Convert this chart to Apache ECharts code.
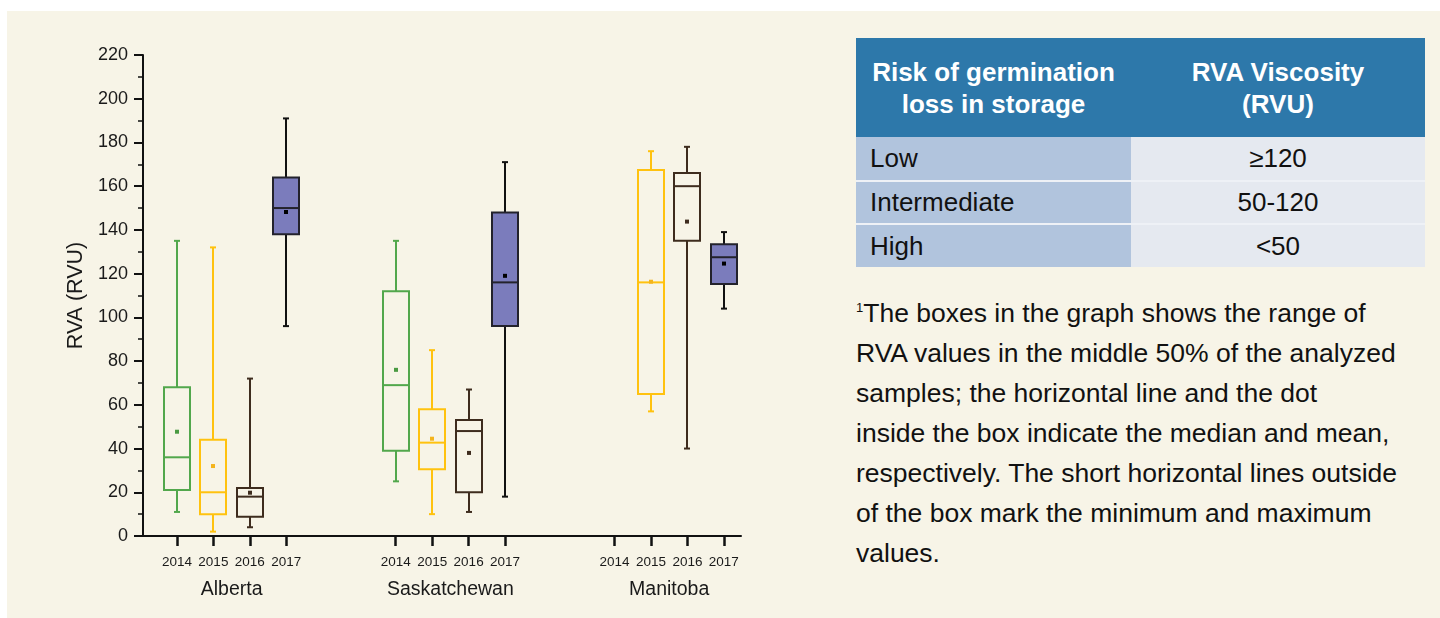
<!DOCTYPE html>
<html>
<head>
<meta charset="utf-8">
<script src="https://cdn.jsdelivr.net/npm/echarts@6/dist/echarts.min.js"></script>
<style>
  body { margin: 0; background: #fff; font-family: 'Liberation Sans', Arial, sans-serif; }
  #panel { position: absolute; left: 7px; top: 11px; width: 1433px; height: 607px; background: #f7f4e7; }
  #chart { position: absolute; left: 0; top: 0; width: 850px; height: 618px; }
  #risk { position: absolute; left: 856px; top: 38px; width: 569px; }
  #risk .hd { display: flex; height: 99px; background: #2d78aa; color: #fff; font-weight: bold; font-size: 26px; line-height: 32px; }
  #risk .hd div { display: flex; align-items: center; justify-content: center; text-align: center; }
  #risk .row { display: flex; font-size: 26px; color: #111; border-top: 2px solid #eef1f6; }
  #risk .c1 { width: 275px; background: #b1c4dd; padding-left: 14px; box-sizing: border-box; display: flex; align-items: center; }
  #risk .c2 { width: 294px; background: #e5e9f0; text-align: center; display: flex; align-items: center; justify-content: center; }
  #note { position: absolute; left: 856px; top: 293px; font-size: 26.5px; line-height: 40px; color: #111; white-space: nowrap; }
  #note sup { font-size: 13px; vertical-align: 10px; line-height: 0; }
</style>
</head>
<body>
<div id="panel"></div>
<div id="chart"></div>
<div id="risk">
  <div class="hd">
    <div style="width:275px">Risk of germination<br>loss in storage</div>
    <div style="width:294px">RVA Viscosity<br>(RVU)</div>
  </div>
  <div class="row" style="border-top:0;height:43px"><div class="c1">Low</div><div class="c2">≥120</div></div>
  <div class="row" style="height:41px"><div class="c1">Intermediate</div><div class="c2">50-120</div></div>
  <div class="row" style="height:42px"><div class="c1">High</div><div class="c2">&lt;50</div></div>
</div>
<div id="note"><sup>1</sup>The boxes in the graph shows the range of<br>RVA values in the middle 50% of the analyzed<br>samples; the horizontal line and the dot<br>inside the box indicate the median and mean,<br>respectively. The short horizontal lines outside<br>of the box mark the minimum and maximum<br>values.</div>

<script>
var provinces = ['Alberta', 'Saskatchewan', 'Manitoba']
var years = ['2014', '2015', '2016', '2017']

// per province: [min, q1, median, q3, max, mean]
var rva2014 = [[11, 21, 36, 68, 135, 47.7], [25, 39, 69, 112, 135, 76], null]
var rva2015 = [[2, 10, 20, 44, 132, 32], [10, 30.5, 42.7, 58, 85, 44.5], [57, 65, 116, 167.4, 176, 116.3]]
var rva2016 = [[4, 8.8, 18, 22, 72, 19.8], [11, 20, 48, 53, 67, 38], [40, 135, 160, 166, 178, 143.8]]
var rva2017 = [[96, 138, 150, 164, 191, 148.2], [18, 96, 116, 148, 171, 119], [104, 115.3, 127.5, 133.4, 139, 124.6]]
var allYears = [rva2014, rva2015, rva2016, rva2017]

var yearStyles = [
  { stroke: '#52a74c', fill: 'none', whisker: '#52a74c', mean: '#4a9a42' },
  { stroke: '#ffc20f', fill: 'none', whisker: '#ffc20f', mean: '#f4b41c' },
  { stroke: '#3e2c1e', fill: 'none', whisker: '#3e2c1e', mean: '#3e2c1e' },
  { stroke: '#23222c', fill: '#7b7cbc', whisker: '#111111', mean: '#000000' }
]

var GAP = 6 // slots per province group (4 years + 2 empty)
var tickPos = []
provinces.forEach(function (p, pi) {
  years.forEach(function (y, yi) { tickPos.push(pi * GAP + yi) })
})
var groupPos = provinces.map(function (p, pi) { return pi * GAP + 1.5 })

function makeRender (st) {
  return function (params, api) {
    var x = api.value(0)
    var pMin = api.coord([x, api.value(1)])
    var pQ1 = api.coord([x, api.value(2)])
    var pMed = api.coord([x, api.value(3)])
    var pQ3 = api.coord([x, api.value(4)])
    var pMax = api.coord([x, api.value(5)])
    var pMean = api.coord([x, api.value(6)])
    var cx = Math.round(pMin[0])
    var hw = 13
    var ln = { stroke: st.whisker, lineWidth: 2 }
    var bx = { stroke: st.stroke, lineWidth: 2 }
    return {
      type: 'group',
      children: [
        { type: 'line', shape: { x1: cx, y1: pMax[1], x2: cx, y2: pQ3[1] }, style: ln },
        { type: 'line', shape: { x1: cx, y1: pQ1[1], x2: cx, y2: pMin[1] }, style: ln },
        { type: 'line', shape: { x1: cx - 3, y1: pMax[1], x2: cx + 3, y2: pMax[1] }, style: ln },
        { type: 'line', shape: { x1: cx - 3, y1: pMin[1], x2: cx + 3, y2: pMin[1] }, style: ln },
        { type: 'rect', shape: { x: cx - hw, y: pQ3[1], width: hw * 2, height: pQ1[1] - pQ3[1] },
          style: { fill: st.fill, stroke: st.stroke, lineWidth: 2 } },
        { type: 'line', shape: { x1: cx - hw, y1: pMed[1], x2: cx + hw, y2: pMed[1] }, style: bx },
        { type: 'rect', shape: { x: cx - 2, y: pMean[1] - 2, width: 4, height: 4 }, style: { fill: st.mean } }
      ]
    }
  }
}

var series = allYears.map(function (arr, yi) {
  var data = []
  arr.forEach(function (v, pi) {
    if (v) data.push([pi * GAP + yi].concat(v))
  })
  return {
    type: 'custom',
    name: years[yi],
    xAxisIndex: 0,
    renderItem: makeRender(yearStyles[yi]),
    encode: { x: 0, y: [1, 2, 3, 4, 5, 6] },
    data: data
  }
})

var font = "'Liberation Sans', Arial, sans-serif"
var chart = echarts.init(document.getElementById('chart'))
chart.setOption({
  animation: false,
  textStyle: { fontFamily: font },
  grid: { left: 143, top: 55, width: 598, height: 481, outerBoundsMode: 'none' },
  xAxis: [
    {
      type: 'value', min: -0.93, max: 15.47, position: 'bottom',
      axisLine: { onZero: false, lineStyle: { color: '#111', width: 2 } },
      axisTick: { customValues: tickPos, length: 10, lineStyle: { color: '#111', width: 2.5 } },
      axisLabel: {
        customValues: tickPos, margin: 19, fontSize: 13.5, color: '#1a1a1a', fontFamily: font,
        formatter: function (v) { return years[Math.round(v) % GAP] }
      },
      splitLine: { show: false }
    },
    {
      type: 'value', min: -0.93, max: 15.47, position: 'bottom',
      axisLine: { show: false, onZero: false },
      axisTick: { show: false },
      axisLabel: {
        customValues: groupPos, margin: 44, fontSize: 19.5, color: '#1a1a1a', fontFamily: font,
        formatter: function (v) { return provinces[Math.floor(v / GAP)] }
      },
      splitLine: { show: false }
    }
  ],
  yAxis: {
    type: 'value', min: 0, max: 220, interval: 20,
    name: 'RVA (RVU)', nameLocation: 'middle', nameGap: 56,
    nameTextStyle: { fontSize: 21.5, color: '#1a1a1a', fontFamily: font },
    axisLine: { show: true, onZero: false, lineStyle: { color: '#111', width: 2 } },
    axisTick: { show: true, length: 9, lineStyle: { color: '#111', width: 2 } },
    minorTick: { show: true, splitNumber: 2, length: 5, lineStyle: { color: '#111', width: 1.5 } },
    axisLabel: { margin: 15, fontSize: 18, color: '#1a1a1a', fontFamily: font },
    splitLine: { show: false }
  },
  series: series
})
</script>
</body>
</html>
